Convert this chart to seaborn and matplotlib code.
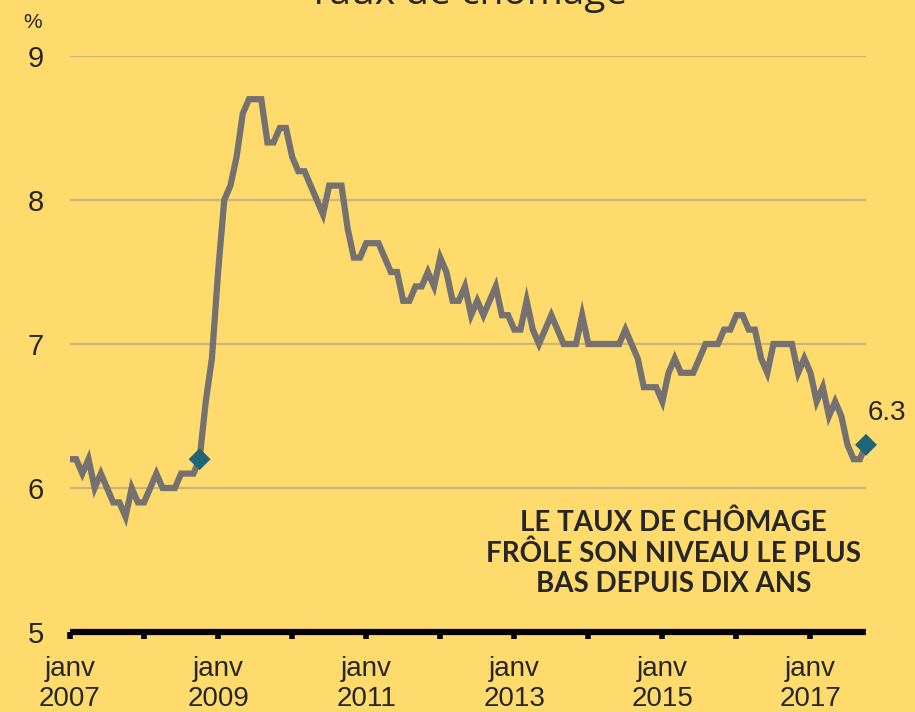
import numpy as np
import pandas as pd
import seaborn as sns
import matplotlib.pyplot as plt

# taux de chômage mensuel, janv 2007 -> oct 2017
rates = [6.2, 6.2, 6.1, 6.2, 6.0, 6.1, 6.0, 5.9, 5.9, 5.8, 6.0, 5.9,
         5.9, 6.0, 6.1, 6.0, 6.0, 6.0, 6.1, 6.1, 6.1, 6.2, 6.6, 6.9,
         7.5, 8.0, 8.1, 8.3, 8.6, 8.7, 8.7, 8.7, 8.4, 8.4, 8.5, 8.5,
         8.3, 8.2, 8.2, 8.1, 8.0, 7.9, 8.1, 8.1, 8.1, 7.8, 7.6, 7.6,
         7.7, 7.7, 7.7, 7.6, 7.5, 7.5, 7.3, 7.3, 7.4, 7.4, 7.5, 7.4,
         7.6, 7.5, 7.3, 7.3, 7.4, 7.2, 7.3, 7.2, 7.3, 7.4, 7.2, 7.2,
         7.1, 7.1, 7.3, 7.1, 7.0, 7.1, 7.2, 7.1, 7.0, 7.0, 7.0, 7.2,
         7.0, 7.0, 7.0, 7.0, 7.0, 7.0, 7.1, 7.0, 6.9, 6.7, 6.7, 6.7,
         6.6, 6.8, 6.9, 6.8, 6.8, 6.8, 6.9, 7.0, 7.0, 7.0, 7.1, 7.1,
         7.2, 7.2, 7.1, 7.1, 6.9, 6.8, 7.0, 7.0, 7.0, 7.0, 6.8, 6.9,
         6.8, 6.6, 6.7, 6.5, 6.6, 6.5, 6.3, 6.2, 6.2, 6.3]
years = list(range(2007, 2018))
highlight = [21, 129]   # oct 2008, oct 2017
y_ticks = [5, 6, 7, 8, 9]

df = pd.DataFrame({'mois': np.arange(len(rates)), 'taux': rates})
pts = df.loc[highlight]

bg = '#FFDB6E'
sns.set_style('white', {'axes.facecolor': bg, 'figure.facecolor': bg})
plt.rcParams['font.family'] = ['Liberation Sans', 'DejaVu Sans']

fig = plt.figure(figsize=(9.15, 7.12), dpi=100)
ax = fig.add_axes([70 / 915, 80 / 712, 796 / 915, 576 / 712])

sns.lineplot(data=df, x='mois', y='taux', color='#767171', lw=4.5, ax=ax,
             solid_joinstyle='miter')
sns.scatterplot(data=pts, x='mois', y='taux', marker='D', s=125, color='#1F6477',
                edgecolor='none', ax=ax, zorder=5, clip_on=False)

last = pts.iloc[-1]
ax.annotate(f"{last['taux']:.1f}", (last['mois'], last['taux']), xytext=(15, 23),
            textcoords='offset points', ha='center', va='center', fontsize=20)

ax.set_xlim(0, len(rates) - 1)
ax.set_ylim(5, 9)
ax.set_yticks(y_ticks)
ax.set_yticklabels([str(v) for v in y_ticks], fontsize=21)
ax.tick_params(axis='y', length=0, pad=19)

xt = [12 * k for k in range(len(years))]
ax.set_xticks(xt)
ax.set_xticklabels([f"janv\n{y}" if k % 2 == 0 else '' for k, y in enumerate(years)],
                   fontsize=20, linespacing=1.2)
ax.tick_params(axis='x', bottom=True, direction='out', length=5, width=4,
               color='black', pad=12)
ax.set_xlabel('')
ax.set_ylabel('')

ax.grid(axis='y', color='#C9B47A', lw=1.6)
ax.grid(axis='x', visible=False)
ax.set_axisbelow(True)
for side in ['top', 'right', 'left']:
    ax.spines[side].set_visible(False)
ax.spines['bottom'].set_linewidth(4.5)
ax.spines['bottom'].set_color('black')
ax.spines['bottom'].set_capstyle('butt')

fig.text(33 / 915, 1 - 22 / 712, '%', fontsize=15, ha='center', va='center')
fig.text(468 / 915, 1 - 4 / 712, 'Taux de chômage', fontsize=28, ha='center',
         va='baseline', family=['Open Sans', 'DejaVu Sans'])
ax.text(0.758, 0.137, 'LE TAUX DE CHÔMAGE\nFRÔLE SON NIVEAU LE PLUS\nBAS DEPUIS DIX ANS',
        transform=ax.transAxes, ha='center', va='center', fontsize=20,
        fontweight='bold', linespacing=1.2, family=['Lato', 'DejaVu Sans'])

fig.savefig('out.png', dpi=100, facecolor=bg)
